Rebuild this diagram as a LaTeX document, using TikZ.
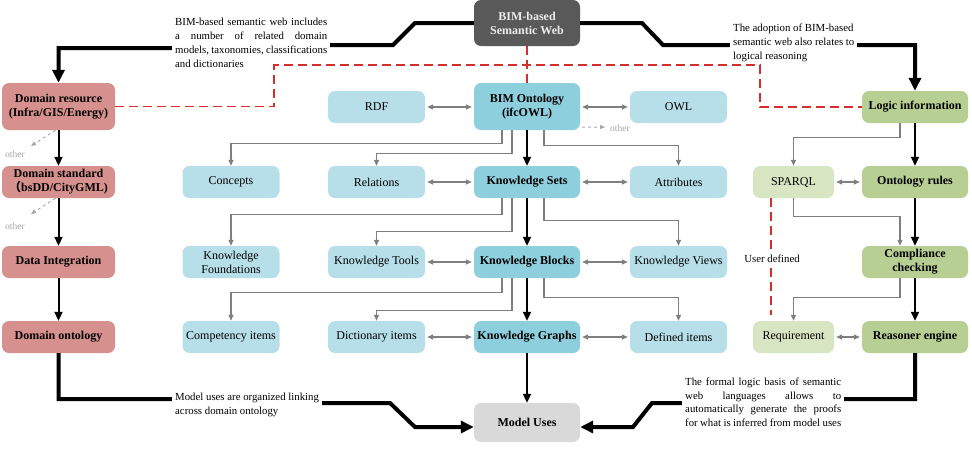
\documentclass[tikz,border=0pt]{standalone}
\usepackage{fontspec}
\setmainfont{Liberation Serif}
\newfontfamily\cjkfont{Noto Sans CJK SC}
\usetikzlibrary{arrows.meta,calc}
\definecolor{darkg}{HTML}{595959}
\definecolor{redc}{HTML}{D6908D}
\definecolor{bluel}{HTML}{B7DFEA}
\definecolor{blued}{HTML}{8ECFDD}
\definecolor{greend}{HTML}{B8CF94}
\definecolor{greenl}{HTML}{D8E5C2}
\definecolor{mugray}{HTML}{D9D9D9}
\definecolor{arrg}{HTML}{7F7F7F}
\definecolor{othg}{HTML}{A6A6A6}
\definecolor{redd}{HTML}{D42E2E}
\newcommand\myjline[2]{\makebox[#1][s]{#2}}
\begin{document}
\begin{tikzpicture}[x=1pt,y=-1pt,
  basebox/.style={rounded corners=7pt, inner sep=1pt, align=center, minimum height=32pt, font=\fontsize{12}{14}\selectfont},
  redbox/.style={basebox, fill=redc, minimum width=113pt, font=\fontsize{12}{14}\selectfont\bfseries},
  bluebox/.style={basebox, fill=bluel, minimum width=97pt},
  bluemain/.style={basebox, fill=blued, minimum width=106pt, font=\fontsize{12}{14}\selectfont\bfseries},
  greenmain/.style={basebox, fill=greend, minimum width=106pt, font=\fontsize{12}{14}\selectfont\bfseries},
  greenlbox/.style={basebox, fill=greenl, minimum width=81pt},
  darkbox/.style={basebox, fill=darkg, text=white!93!black, minimum width=106pt, minimum height=46pt, font=\fontsize{12}{14}\selectfont\bfseries},
  mubox/.style={basebox, fill=mugray, minimum width=106pt, minimum height=39pt, font=\fontsize{12}{14}\selectfont\bfseries},
  bigarrow/.style={line width=4pt, -{Triangle[width=12pt,length=13pt]}},
  midarrow/.style={line width=2pt, -{Triangle[width=8pt,length=9pt]}},
  garrow/.style={draw=arrg, line width=1.3pt, -{Triangle[width=5pt,length=6pt]}},
  gdouble/.style={draw=arrg, line width=1.3pt, {Triangle[width=5pt,length=6pt]}-{Triangle[width=5pt,length=6pt]}, shorten <=2pt, shorten >=2pt},
  othera/.style={draw=othg, line width=0.9pt, dashed, -{Triangle[width=4pt,length=5pt]}},
  othertext/.style={text=othg, font=\fontsize{9.5}{10}\selectfont, inner sep=0pt},
  reddash/.style={draw=redd, line width=1.5pt, dash pattern=on 9pt off 5pt},
  note/.style={fill=white, inner xsep=3pt, inner ysep=1pt, anchor=north west, align=left, font=\fontsize{10.8}{13.8}\selectfont}
]
\useasboundingbox (0,0) rectangle (972,456);

% ---- nodes ----
\node[darkbox] (sw) at (527,23) {BIM-based\\Semantic Web};

\node[redbox, minimum height=47pt] (dr) at (58.5,106.5) {Domain resource\\(Infra/GIS/Energy)};
\node[redbox] (ds) at (58.5,182) {Domain standard\\{\cjkfont （}bsDD/CityGML)};
\node[redbox] (di) at (58.5,262) {Data Integration};
\node[redbox] (do) at (58.5,337) {Domain ontology};

\node[bluebox] (rdf) at (376.5,107) {RDF};
\node[bluemain, minimum height=47pt] (bo) at (527,106.5) {BIM Ontology\\(ifcOWL)};
\node[bluebox] (owl) at (678.5,107) {OWL};
\node[greenmain] (li) at (915,107) {Logic information};

\node[bluebox] (ct) at (231,182) {Concepts};
\node[bluebox] (rl) at (376.5,182) {Relations};
\node[bluemain] (ks) at (527,182) {Knowledge Sets};
\node[bluebox] (at) at (678.5,182) {Attributes};
\node[greenlbox] (sp) at (793.5,182) {SPARQL};
\node[greenmain] (or) at (915,182) {Ontology rules};

\node[bluebox] (kf) at (231,262) {Knowledge\\Foundations};
\node[bluebox] (kt) at (376.5,262) {Knowledge Tools};
\node[bluemain] (kb) at (527,262) {Knowledge Blocks};
\node[bluebox] (kv) at (678.5,262) {Knowledge Views};
\node[greenmain] (cc) at (915,262) {Compliance\\checking};

\node[bluebox] (ci) at (231,337) {Competency items};
\node[bluebox] (dc) at (376.5,337) {Dictionary items};
\node[bluemain] (kg) at (527,337) {Knowledge Graphs};
\node[bluebox] (de) at (678.5,337) {Defined items};
\node[greenlbox] (rq) at (793.5,337) {Requirement};
\node[greenmain] (re) at (915,337) {Reasoner engine};

\node[mubox] (mu) at (527,422.5) {Model Uses};

\node[othertext] (o1) at (15,154) {other};
\node[othertext] (o2) at (15,226) {other};
\node[othertext] (o3) at (620,128) {other};
\coordinate (o1a) at (31,146);
\coordinate (o2a) at (31,214);
\coordinate (o3a) at (605,127);

% ---- big black connectors ----
\draw[bigarrow] (sw.west) -- (415,23) -- (393,45) -- (250,45) -- (250,48) -- (58.5,48) -- (dr.north);
\draw[bigarrow] (sw.east) -- (642,23) -- (663,45) -- (915,45) -- (li.north);
\draw[bigarrow] (do.south) -- (58.5,399) -- (250,399) -- (250,403) -- (390,403) -- (415,427) -- ($(mu.west)+(0,4.5)$);
\draw[bigarrow] (re.south) -- (915,399) -- (760,399) -- (760,403) -- (652,403) -- (633,427) -- ($(mu.east)+(0,4.5)$);

% ---- black chains ----
\draw[midarrow] (dr.south) -- (ds.north);
\draw[midarrow] (ds.south) -- (di.north);
\draw[midarrow] (di.south) -- (do.north);
\draw[midarrow] (bo.south) -- (ks.north);
\draw[midarrow] (ks.south) -- (kb.north);
\draw[midarrow] (kb.south) -- (kg.north);
\draw[midarrow] (kg.south) -- (mu.north);
\draw[midarrow] (li.south) -- (or.north);
\draw[midarrow] (or.south) -- (cc.north);
\draw[midarrow] (cc.south) -- (re.north);

% ---- gray double arrows ----
\draw[gdouble] (rdf.east) -- (rdf.east -| bo.west);
\draw[gdouble] (owl.west -| bo.east) -- (owl.west);
\draw[gdouble] (rl.east) -- (ks.west);
\draw[gdouble] (ks.east) -- (at.west);
\draw[gdouble] (kt.east) -- (kb.west);
\draw[gdouble] (kb.east) -- (kv.west);
\draw[gdouble] (dc.east) -- (kg.west);
\draw[gdouble] (kg.east) -- (de.west);
\draw[gdouble] (sp.east) -- (or.west);
\draw[gdouble] (rq.east) -- (re.west);

% ---- gray branches ----
\draw[garrow] ([xshift=-25pt]bo.south) -- ++(0,13) -| (ct.north);
\draw[garrow] ([xshift=-15pt]bo.south) -- ++(0,23) -| (rl.north);
\draw[garrow] ([xshift=17pt]bo.south) -- ++(0,15) -| (at.north);
\draw[garrow] ([xshift=-25pt]ks.south) -- ++(0,16) -| (kf.north);
\draw[garrow] ([xshift=-15pt]ks.south) -- ++(0,33) -| (kt.north);
\draw[garrow] ([xshift=17pt]ks.south) -- ++(0,22) -| (kv.north);
\draw[garrow] ([xshift=-25pt]kb.south) -- ++(0,14) -| (ci.north);
\draw[garrow] ([xshift=-15pt]kb.south) -- ++(0,32) -| (dc.north);
\draw[garrow] ([xshift=17pt]kb.south) -- ++(0,19) -| (de.north);
\draw[garrow] ([xshift=-15pt]li.south) -- ++(0,14) -| (sp.north);
\draw[garrow] (sp.south) -- ++(0,18) -| ([xshift=-15pt]cc.north);
\draw[garrow] ([xshift=-15pt]cc.south) -- ++(0,19) -| (rq.north);

% ---- other arrows ----
\draw[othera] ([xshift=-3pt]dr.south) -- (o1a);
\draw[othera] ([xshift=-3pt]ds.south) -- (o2a);
\draw[othera] ([yshift=3pt,xshift=2pt]bo.south east) -- (o3a);

% ---- notes ----
\node[note] (t1) at (172,17) {\myjline{152pt}{BIM-based semantic web includes}\\\myjline{152pt}{a number of related domain}\\\myjline{152pt}{models, taxonomies, classifications}\\and dictionaries};
\node[note] (t2) at (730,23) {The adoption of BIM-based\\semantic web also relates to\\logical reasoning};
\node[note] (t3) at (172,391.5) {Model uses are organized linking\\across domain ontology};
\node[note] (t4) at (682,376.5) {\myjline{156pt}{The formal logic basis of semantic}\\\myjline{156pt}{web languages allows to}\\\myjline{156pt}{automatically generate the proofs}\\\myjline{156pt}{for what is inferred from model uses}};

% ---- red dashed ----
\draw[reddash] (dr.east) -- ++(159,0) |- (760,65) |- (li.west);
\draw[reddash] (sw.south) -- (bo.north);
\draw[reddash] ([xshift=-22.5pt]sp.south) -- ([xshift=-22.5pt,yshift=6pt]rq.north);
\node[fill=white, inner sep=1pt, font=\fontsize{10.8}{12}\selectfont] (ud) at (772,259) {User defined};
\end{tikzpicture}
\end{document}
